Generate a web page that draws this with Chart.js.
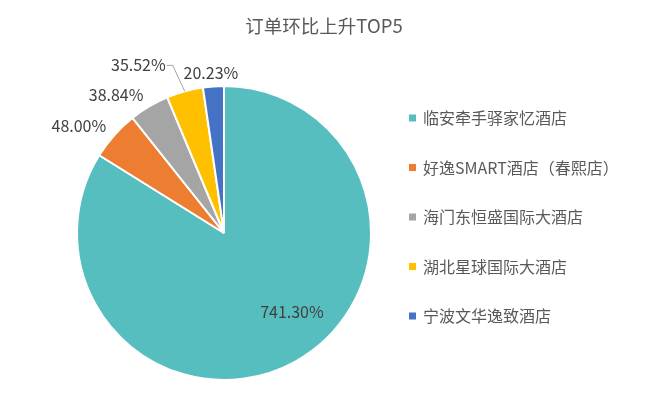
<!DOCTYPE html>
<html>
<head>
<meta charset="utf-8">
<script src="https://cdn.jsdelivr.net/npm/chart.js"></script>
<style>
  html, body { margin: 0; padding: 0; background: #fff; }
  #grafico { display: block; }
</style>
</head>
<body>
<canvas id="grafico" width="650" height="419"></canvas>
<script>
const tituloGrafico = "订单环比上升TOP5";
const hoteis = [
  "临安牵手驿家忆酒店",
  "好逸SMART酒店（春熙店）",
  "海门东恒盛国际大酒店",
  "湖北星球国际大酒店",
  "宁波文华逸致酒店",
];
const crescimento = [741.3, 48.0, 38.84, 35.52, 20.23];
const cores = ["#57BEC0", "#ED7D31", "#A5A5A5", "#FFC000", "#4472C4"];

const fonte = '"Noto Sans CJK SC", "Noto Sans", sans-serif';

// rotulos, legenda e titulo desenhados a mao
const pluginRotulos = {
  id: "rotulos",
  afterDatasetsDraw(chart, args, opts) {
    const ctx = chart.ctx;
    const arcos = chart.getDatasetMeta(0).data;

    ctx.save();
    ctx.font = `16px ${fonte}`;
    ctx.fillStyle = "#404040";
    ctx.textAlign = "center";
    ctx.textBaseline = "middle";

    arcos.forEach((arco, i) => {
      const meio = (arco.startAngle + arco.endAngle) / 2;
      const dx = Math.cos(meio);
      const dy = Math.sin(meio);
      const texto = crescimento[i].toFixed(2) + "%";
      const largura = ctx.measureText(texto).width;
      const ajuste = opts.ajustes[i] || [0, 0];
      let x, y;

      if (i === 0) {
        x = arco.x + dx * arco.outerRadius * 0.7;
        y = arco.y + dy * arco.outerRadius * 0.7;
      } else {
        const px = arco.x + dx * (arco.outerRadius + 8);
        const py = arco.y + dy * (arco.outerRadius + 8);
        x = px + dx * largura / 2;
        y = py + dy * 7.5;
      }
      x += ajuste[0];
      y += ajuste[1];

      if (opts.guias.includes(i)) {
        const bx = arco.x + dx * arco.outerRadius;
        const by = arco.y + dy * arco.outerRadius;
        ctx.strokeStyle = "#A6A6A6";
        ctx.lineWidth = 1;
        ctx.beginPath();
        ctx.moveTo(bx, by);
        ctx.lineTo(x + largura / 2 + 7, y);
        ctx.lineTo(x + largura / 2 + 1, y);
        ctx.stroke();
      }

      ctx.fillText(texto, x, y);
    });

    // titulo
    ctx.font = `18.5px ${fonte}`;
    ctx.fillStyle = "#595959";
    ctx.fillText(tituloGrafico, 324, 26);

    // legenda
    ctx.font = `16px ${fonte}`;
    ctx.textAlign = "left";
    hoteis.forEach((nome, i) => {
      const y = 118 + i * 49.5;
      ctx.fillStyle = cores[i];
      ctx.fillRect(409, y - 3.5, 7, 7);
      ctx.fillStyle = "#595959";
      ctx.fillText(nome, 423, y);
    });
    ctx.restore();
  },
};

const contexto = document.getElementById("grafico").getContext("2d");

new Chart(contexto, {
  type: "pie",
  data: {
    labels: hoteis,
    datasets: [
      {
        data: crescimento,
        backgroundColor: cores,
        borderColor: "#FFF",
        borderWidth: 2,
      },
    ],
  },
  options: {
    responsive: false,
    animation: false,
    devicePixelRatio: 1,
    layout: {
      padding: { left: 76, right: 278, top: 85, bottom: 38 },
    },
    plugins: {
      legend: { display: false },
      tooltip: { enabled: false },
      rotulos: {
        ajustes: [[18, -11], [-9, 1], [-15, 1.5], [-37, -11], [0, 2]],
        guias: [3],
      },
    },
  },
  plugins: [pluginRotulos],
});
</script>
</body>
</html>
